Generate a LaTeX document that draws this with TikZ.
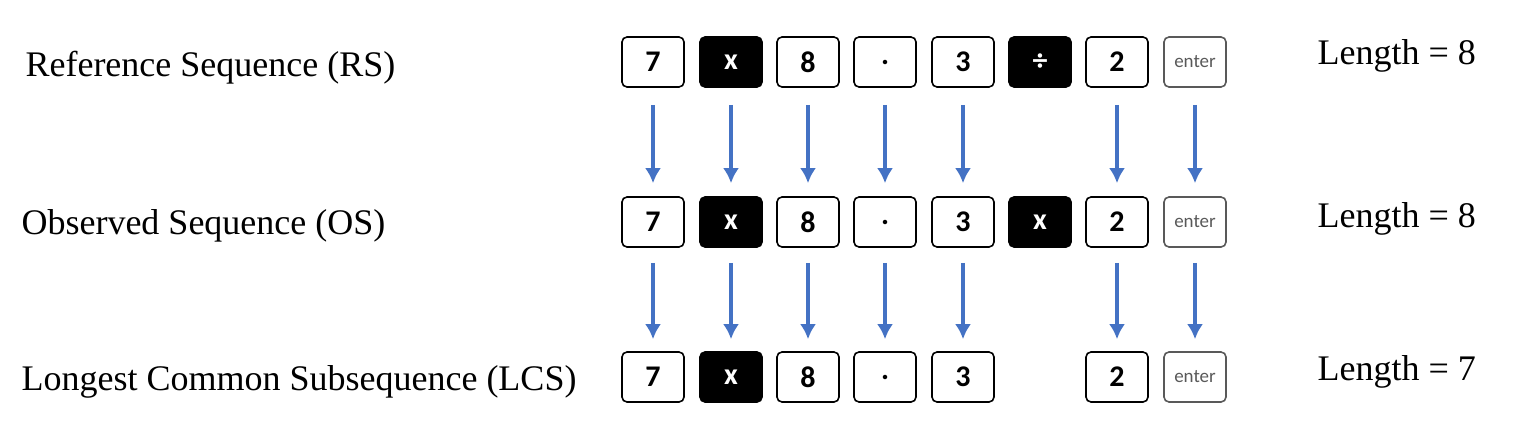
\documentclass[tikz,border=0pt]{standalone}
\usepackage{fontspec}
\setmainfont{Liberation Serif}
\newfontfamily\keyfont{Carlito}
\usetikzlibrary{arrows.meta}
\begin{document}
\begin{tikzpicture}[x=1pt,y=-1pt,
  key/.style={draw=black,line width=1.6pt,rounded corners=5pt,minimum width=62pt,minimum height=50pt,inner sep=0pt,font=\keyfont\bfseries\fontsize{30}{32}\selectfont},
  dkey/.style={key,fill=black,text=white},
  ekey/.style={key,draw=gray!70!black,text=gray!70!black,font=\keyfont\fontsize{19}{20}\selectfont},
  lbl/.style={anchor=west,font=\fontsize{36}{40}\selectfont},
  arr/.style={draw={rgb,255:red,68;green,114;blue,196},line width=3.6pt,-{Latex[length=15pt,width=16pt]}}]
\useasboundingbox (0,0) rectangle (1524,436);
\node[lbl] (l1) at (22,68) {Reference Sequence (RS)};
\node[lbl] (l2) at (18,226) {Observed Sequence (OS)};
\node[lbl] (l3) at (18,382) {Longest Common Subsequence (LCS)};
\node[lbl] (n1) at (1314,56) {Length = 8};
\node[lbl] (n2) at (1314,219) {Length = 8};
\node[lbl] (n3) at (1314,372) {Length = 7};
% row 1
\node[key] (a1) at (653,62) {7};
\node[dkey] (a2) at (731,62) {x};
\node[key] (a3) at (808,62) {8};
\node[key] (a4) at (885,62) {\raisebox{-6pt}{.}};
\node[key] (a5) at (963,62) {3};
\node[dkey] (a6) at (1040,62) {÷};
\node[key] (a7) at (1117,62) {2};
\node[ekey] (a8) at (1195,62) {\raisebox{-8pt}{enter}};
% row 2
\node[key] (b1) at (653,222) {7};
\node[dkey] (b2) at (731,222) {x};
\node[key] (b3) at (808,222) {8};
\node[key] (b4) at (885,222) {\raisebox{-6pt}{.}};
\node[key] (b5) at (963,222) {3};
\node[dkey] (b6) at (1040,222) {x};
\node[key] (b7) at (1117,222) {2};
\node[ekey] (b8) at (1195,222) {\raisebox{-8pt}{enter}};
% row 3
\node[key] (c1) at (653,377) {7};
\node[dkey] (c2) at (731,377) {x};
\node[key] (c3) at (808,377) {8};
\node[key] (c4) at (885,377) {\raisebox{-6pt}{.}};
\node[key] (c5) at (963,377) {3};
\node[key] (c7) at (1117,377) {2};
\node[ekey] (c8) at (1195,377) {\raisebox{-8pt}{enter}};
\foreach \i in {1,2,3,4,5,7,8}{
  \draw[arr] ([yshift=-17pt]a\i.south) -- ([yshift=13pt]b\i.north);
  \draw[arr] ([yshift=-15pt]b\i.south) -- ([yshift=12pt]c\i.north);
}
\end{tikzpicture}
\end{document}
